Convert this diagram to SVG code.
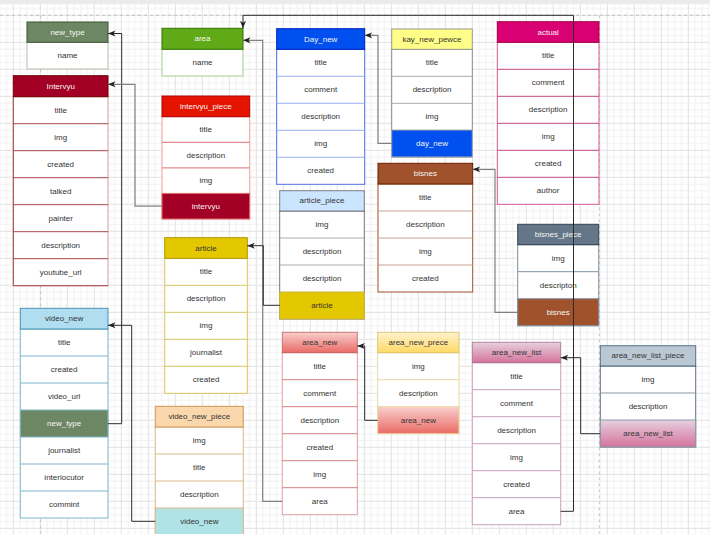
<svg xmlns="http://www.w3.org/2000/svg" width="710" height="534" viewBox="0 0 710 534">
<defs>
<pattern id="grid" x="12.8" y="14.8" width="27" height="27" patternUnits="userSpaceOnUse">
<path d="M7.25 0V27M14 0V27M20.75 0V27M0 7.25H27M0 14H27M0 20.75H27" stroke="#f1f1f1" stroke-width="1" fill="none"/>
<path d="M0.5 0V27M0 0.5H27" stroke="#e1e1e1" stroke-width="1" fill="none"/>
</pattern>
<linearGradient id="gRed" x1="0" y1="0" x2="0" y2="1"><stop offset="0" stop-color="#f8cecc"/><stop offset="1" stop-color="#ea6b66"/></linearGradient>
<linearGradient id="gYel" x1="0" y1="0" x2="0" y2="1"><stop offset="0" stop-color="#fff2cc"/><stop offset="1" stop-color="#ffd966"/></linearGradient>
<linearGradient id="gPink" x1="0" y1="0" x2="0" y2="1"><stop offset="0" stop-color="#e6d0de"/><stop offset="1" stop-color="#d5739d"/></linearGradient>
<marker id="arr" viewBox="0 0 8 8" refX="7.5" refY="4" markerWidth="8" markerHeight="8" markerUnits="userSpaceOnUse" orient="auto">
<path d="M0,1 L7.5,4 L0,7 L2,4 Z" fill="context-stroke" stroke="none"/>
</marker>
<marker id="arrD" viewBox="0 0 8 8" refX="7.5" refY="4" markerWidth="8" markerHeight="8" markerUnits="userSpaceOnUse" orient="auto">
<path d="M0,1 L7.5,4 L0,7 L2,4 Z" fill="#222" stroke="none"/>
</marker>
<marker id="arrG" viewBox="0 0 8 8" refX="7.5" refY="4" markerWidth="8" markerHeight="8" markerUnits="userSpaceOnUse" orient="auto">
<path d="M0,1 L7.5,4 L0,7 L2,4 Z" fill="#222" stroke="none"/>
</marker>
</defs>
<style>
text{font-family:"Liberation Sans",Arial,Helvetica,sans-serif;font-size:8px;text-anchor:middle;dominant-baseline:central}
.t{fill:#333}
.w{fill:#f6f6f6}
.body{fill:#fff}
.sep{fill:none}
.cd{fill:none;stroke:#2b2b2b;stroke-width:1;marker-end:url(#arrD)}
.cg{fill:none;stroke:#808080;stroke-width:1.2;marker-end:url(#arrG)}
</style>
<rect width="710" height="534" fill="#fff"/>
<rect width="710" height="534" fill="url(#grid)"/>
<rect width="710" height="4.3" fill="#ebebeb"/>
<g fill="none" stroke="#c4c4c4" stroke-width="1" stroke-dasharray="3,3">
<path d="M0 15.3H710"/>
<path d="M40.7 15.3V534"/>
<path d="M599.3 15.3V534"/>
</g>

<g id="new_type">
<rect class="body" x="27" y="42.3" width="81" height="26.7" stroke="#b3c2ac"/>
<rect x="27" y="22" width="81" height="20.3" fill="#6d8764" stroke="#3a5431"/>
<text x="67.5" y="32.2" class="w">new_type</text>
<text x="67.5" y="55.7" class="t">name</text>
</g>

<g id="area">
<rect class="body" x="162" y="49.3" width="81" height="26.7" stroke="#a8d08d"/>
<rect x="162" y="28.3" width="81" height="21" fill="#60a917" stroke="#2d7600"/>
<text x="202.5" y="38.8" class="w">area</text>
<text x="202.5" y="62.7" class="t">name</text>
</g>

<g id="Intervyu">
<rect class="body" x="13.3" y="96.7" width="94.7" height="189" stroke="#d4a0a0"/>
<path class="sep" stroke="#a84848" d="M13.3 123.7H108M13.3 150.7H108M13.3 177.7H108M13.3 204.7H108M13.3 231.7H108M13.3 258.7H108M13.3 96.7V285.7H108"/>
<rect x="13.3" y="75.7" width="94.7" height="21" fill="#a20025" stroke="#6f0000"/>
<text x="60.7" y="86.2" class="w">Intervyu</text>
<text x="60.7" y="110.2" class="t">title</text>
<text x="60.7" y="137.2" class="t">img</text>
<text x="60.7" y="164.2" class="t">created</text>
<text x="60.7" y="191.2" class="t">talked</text>
<text x="60.7" y="218.2" class="t">painter</text>
<text x="60.7" y="245.2" class="t">description</text>
<text x="60.7" y="272.2" class="t">youtube_url</text>
</g>

<g id="intervyu_piece">
<rect class="body" x="162" y="116.7" width="87.7" height="102.3" stroke="#f0a0a0"/>
<path class="sep" stroke="#e07070" d="M162 142.3H249.7M162 167.9H249.7"/>
<rect x="162" y="193.4" width="87.7" height="25.6" fill="#a20025" stroke="#e07070"/>
<rect x="162" y="96" width="87.7" height="20.7" fill="#e51400" stroke="#b20000"/>
<text x="205.85" y="106.35" class="w">intervyu_piece</text>
<text x="205.85" y="129.5" class="t">title</text>
<text x="205.85" y="155.1" class="t">description</text>
<text x="205.85" y="180.65" class="t">img</text>
<text x="205.85" y="206.2" class="w">intervyu</text>
</g>

<g id="Day_new">
<rect class="body" x="276.7" y="49.3" width="88" height="135" stroke="#4a6cf0"/>
<path class="sep" stroke="#9bb0f5" d="M276.7 76.3H364.7M276.7 103.3H364.7M276.7 130.3H364.7M276.7 157.3H364.7"/>
<rect x="276.7" y="28.7" width="88" height="20.6" fill="#0050ef" stroke="#001dbc"/>
<text x="320.7" y="39" class="w">Day_new</text>
<text x="320.7" y="62.8" class="t">title</text>
<text x="320.7" y="89.8" class="t">comment</text>
<text x="320.7" y="116.8" class="t">description</text>
<text x="320.7" y="143.8" class="t">img</text>
<text x="320.7" y="170.8" class="t">created</text>
</g>

<g id="kay_new_pewce">
<rect class="body" x="391.7" y="49.3" width="80.6" height="107.7" stroke="#888"/>
<path class="sep" stroke="#aaa" d="M391.7 76.3H472.3M391.7 103.3H472.3"/>
<rect x="391.7" y="130" width="80.6" height="27" fill="#0050ef" stroke="#aaa"/>
<rect x="391.7" y="29" width="80.6" height="20.3" fill="#ffff88" stroke="#999"/>
<text x="432" y="39.15" class="t">kay_new_pewce</text>
<text x="432" y="62.8" class="t">title</text>
<text x="432" y="89.8" class="t">description</text>
<text x="432" y="116.65" class="t">img</text>
<text x="432" y="143.5" class="w">day_new</text>
</g>

<g id="actual">
<rect class="body" x="497.3" y="42.3" width="101.7" height="162" stroke="#d45a94"/>
<path class="sep" stroke="#c2477f" d="M497.3 69.3H599M497.3 96.3H599M497.3 123.3H599M497.3 150.3H599M497.3 177.3H599"/>
<rect x="497.3" y="21.7" width="101.7" height="20.6" fill="#d80073" stroke="#a50040"/>
<text x="548.15" y="32" class="w">actual</text>
<text x="548.15" y="55.8" class="t">title</text>
<text x="548.15" y="82.8" class="t">comment</text>
<text x="548.15" y="109.8" class="t">description</text>
<text x="548.15" y="136.8" class="t">img</text>
<text x="548.15" y="163.8" class="t">created</text>
<text x="548.15" y="190.8" class="t">author</text>
</g>

<g id="bisnes">
<rect class="body" x="378" y="184" width="94.7" height="108" stroke="#a0522d"/>
<path class="sep" stroke="#c9a08d" d="M378 211H472.7M378 238H472.7M378 265H472.7"/>
<rect x="378" y="163.3" width="94.7" height="20.7" fill="#a0522d" stroke="#6d1f00"/>
<text x="425.35" y="173.65" class="w">bisnes</text>
<text x="425.35" y="197.5" class="t">title</text>
<text x="425.35" y="224.5" class="t">description</text>
<text x="425.35" y="251.5" class="t">img</text>
<text x="425.35" y="278.5" class="t">created</text>
</g>

<g id="article_piece">
<rect class="body" x="279.7" y="211" width="84.6" height="108" stroke="#777"/>
<path class="sep" stroke="#aaa" d="M279.7 238H364.3M279.7 265H364.3"/>
<rect x="279.7" y="292" width="84.6" height="27" fill="#e3c800" stroke="#c8b440"/>
<rect x="279.7" y="190.7" width="84.6" height="20.3" fill="#cce5ff" stroke="#36393d" stroke-opacity="0.6"/>
<text x="322" y="200.85" class="t">article_piece</text>
<text x="322" y="224.5" class="t">img</text>
<text x="322" y="251.5" class="t">description</text>
<text x="322" y="278.5" class="t">description</text>
<text x="322" y="305.5" class="t">article</text>
</g>

<g id="article">
<rect class="body" x="164.7" y="258.3" width="82.6" height="135" stroke="#d9c55a"/>
<path class="sep" stroke="#d9c55a" d="M164.7 285.3H247.3M164.7 312.3H247.3M164.7 339.3H247.3M164.7 366.3H247.3"/>
<rect x="164.7" y="237.7" width="82.6" height="20.6" fill="#e3c800" stroke="#b09500"/>
<text x="206" y="248" class="t">article</text>
<text x="206" y="271.8" class="t">title</text>
<text x="206" y="298.8" class="t">description</text>
<text x="206" y="325.8" class="t">img</text>
<text x="206" y="352.8" class="t">journalist</text>
<text x="206" y="379.8" class="t">created</text>
</g>

<g id="bisnes_piece">
<rect class="body" x="517.7" y="244.7" width="81" height="81" stroke="#8090a0"/>
<path class="sep" stroke="#8090a0" d="M517.7 271.7H598.7"/>
<rect x="517.7" y="298.7" width="81" height="27" fill="#a0522d" stroke="#8090a0"/>
<rect x="517.7" y="224.3" width="81" height="20.4" fill="#647687" stroke="#314354"/>
<text x="558.2" y="234.5" class="w">bisnes_piece</text>
<text x="558.2" y="258.2" class="t">img</text>
<text x="558.2" y="285.2" class="t">descripton</text>
<text x="558.2" y="312.2" class="w">bisnes</text>
</g>

<g id="video_new">
<rect class="body" x="20.3" y="329" width="87.7" height="189" stroke="#7fb5cf"/>
<path class="sep" stroke="#7fb5cf" d="M20.3 356H108M20.3 383H108M20.3 464H108M20.3 491H108"/>
<rect x="20.3" y="410" width="87.7" height="27" fill="#6d8764" stroke="#7fb5cf"/>
<rect x="20.3" y="308.3" width="87.7" height="20.7" fill="#b1ddf0" stroke="#10739e" stroke-opacity="0.7"/>
<text x="64.15" y="318.65" class="t">video_new</text>
<text x="64.15" y="342.5" class="t">title</text>
<text x="64.15" y="369.5" class="t">created</text>
<text x="64.15" y="396.5" class="t">video_url</text>
<text x="64.15" y="423.5" class="w">new_type</text>
<text x="64.15" y="450.5" class="t">journalist</text>
<text x="64.15" y="477.5" class="t">interlocutor</text>
<text x="64.15" y="504.5" class="t">commint</text>
</g>

<g id="video_new_piece">
<rect class="body" x="155.3" y="427" width="88" height="108" stroke="#dcb98a"/>
<path class="sep" stroke="#dcb98a" d="M155.3 454H243.3M155.3 481H243.3"/>
<rect x="155.3" y="508" width="88" height="27" fill="#b0e3e6" stroke="#dcb98a"/>
<rect x="155.3" y="406.3" width="88" height="20.7" fill="#fad7ac" stroke="#b46504" stroke-opacity="0.6"/>
<text x="199.3" y="416.65" class="t">video_new_piece</text>
<text x="199.3" y="440.5" class="t">img</text>
<text x="199.3" y="467.5" class="t">title</text>
<text x="199.3" y="494.5" class="t">description</text>
<text x="199.3" y="521.5" class="t">video_new</text>
</g>

<g id="area_new">
<rect class="body" x="282.3" y="352.7" width="75" height="162" stroke="#e0a0a0"/>
<path class="sep" stroke="#d68080" d="M282.3 379.7H357.3M282.3 406.7H357.3M282.3 433.7H357.3M282.3 460.7H357.3M282.3 487.7H357.3"/>
<rect x="282.3" y="332.3" width="75" height="20.4" fill="url(#gRed)" stroke="#b85450" stroke-opacity="0.7"/>
<text x="319.8" y="342.5" class="t">area_new</text>
<text x="319.8" y="366.2" class="t">title</text>
<text x="319.8" y="393.2" class="t">comment</text>
<text x="319.8" y="420.2" class="t">description</text>
<text x="319.8" y="447.2" class="t">created</text>
<text x="319.8" y="474.2" class="t">img</text>
<text x="319.8" y="501.2" class="t">area</text>
</g>

<g id="area_new_prece">
<rect class="body" x="377.7" y="352.7" width="81.3" height="81" stroke="#ecd9a0"/>
<path class="sep" stroke="#ecd9a0" d="M377.7 379.7H459"/>
<rect x="377.7" y="406.7" width="81.3" height="27" fill="url(#gRed)" stroke="#ecd9a0"/>
<rect x="377.7" y="332.3" width="81.3" height="20.4" fill="url(#gYel)" stroke="#d6b656" stroke-opacity="0.7"/>
<text x="418.35" y="342.5" class="t">area_new_prece</text>
<text x="418.35" y="366.2" class="t">img</text>
<text x="418.35" y="393.2" class="t">description</text>
<text x="418.35" y="420.2" class="t">area_new</text>
</g>

<g id="area_new_list">
<rect class="body" x="472.3" y="362.7" width="88.4" height="162" stroke="#c8a0bc"/>
<path class="sep" stroke="#c8a0bc" d="M472.3 389.7H560.7M472.3 416.7H560.7M472.3 443.7H560.7M472.3 470.7H560.7M472.3 497.7H560.7"/>
<rect x="472.3" y="342.3" width="88.4" height="20.4" fill="url(#gPink)" stroke="#996185" stroke-opacity="0.7"/>
<text x="516.5" y="352.5" class="t">area_new_list</text>
<text x="516.5" y="376.2" class="t">title</text>
<text x="516.5" y="403.2" class="t">comment</text>
<text x="516.5" y="430.2" class="t">description</text>
<text x="516.5" y="457.2" class="t">img</text>
<text x="516.5" y="484.2" class="t">created</text>
<text x="516.5" y="511.2" class="t">area</text>
</g>

<g id="area_new_list_piece">
<rect class="body" x="600.3" y="366" width="95.4" height="81" stroke="#5a7185"/>
<path class="sep" stroke="#8898a8" d="M600.3 393H695.7"/>
<rect x="600.3" y="420" width="95.4" height="27" fill="url(#gPink)" stroke="#8898a8"/>
<rect x="600.3" y="345.7" width="95.4" height="20.3" fill="#bac8d3" stroke="#23445d" stroke-opacity="0.7"/>
<text x="648" y="355.85" class="t">area_new_list_piece</text>
<text x="648" y="379.5" class="t">img</text>
<text x="648" y="406.5" class="t">description</text>
<text x="648" y="433.5" class="t">area_new_list</text>
</g>

<g id="connectors">
<path class="cd" d="M108 423.7H121.7V33.5H108"/>
<path class="cg" d="M162 206.2H135V84.3H108"/>
<path class="cd" d="M155.3 521.3H131.7V325.3H108"/>
<path class="cg" d="M282.3 501.3H262.7V40.3H243"/>
<path class="cd" d="M279.7 305.3H263.3V245.7H247.3"/>
<path class="cg" d="M391.7 143.3H378V35.3H364.7"/>
<path class="cg" d="M517.7 312.3H495V169.3H472.7"/>
<path class="cd" d="M377.7 420.3H364.7V346H357.3"/>
<path class="cd" d="M600.3 433.7H580.7V357.7H560.7"/>
<path class="cd" d="M560.7 511.3H573.5V15.3H243V28.3"/>
</g>
</svg>
